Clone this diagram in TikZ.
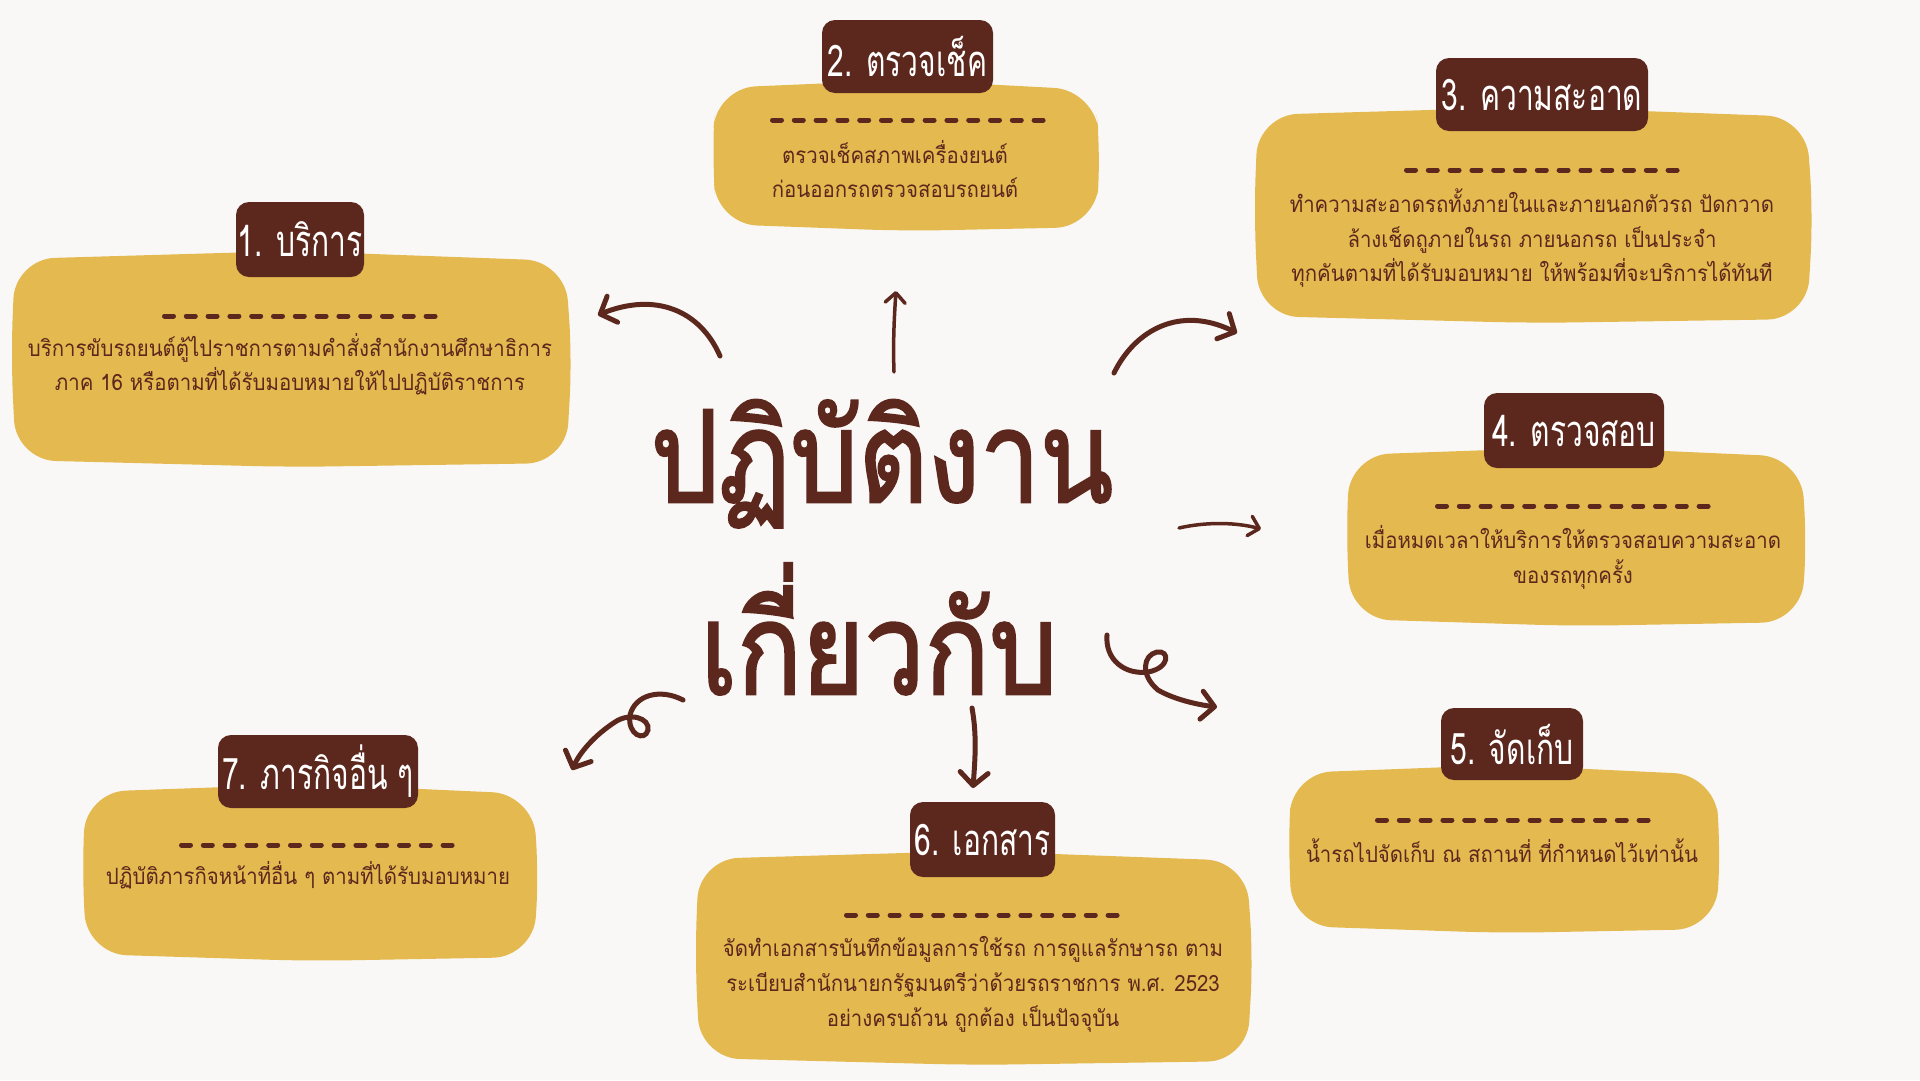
\documentclass[tikz,border=0pt]{standalone}
\usepackage{fontspec}
\newfontfamily\thai[Script=Thai]{Loma}
\newfontfamily\thaititle[Script=Thai, FakeBold=2]{Loma}
\usetikzlibrary{arrows.meta}
\definecolor{bgc}{HTML}{F9F8F6}
\definecolor{ybox}{HTML}{E4BA50}
\definecolor{dkbrown}{HTML}{5C271D}
\tikzset{
 boxfill/.style={fill=ybox, rounded corners=40pt},
 tabbox/.style={fill=dkbrown, rounded corners=13pt, text=white, inner sep=0pt,
   font=\thai\fontsize{30}{30}\selectfont, anchor=center},
 body/.style={text=dkbrown, font=\thai\fontsize{20.4}{20.4}\selectfont, inner sep=0pt, anchor=base},
 titletext/.style={text=dkbrown, font=\thaititle\fontsize{107}{107}\selectfont, inner sep=0pt, anchor=base},
 dashline/.style={draw=dkbrown, line width=5pt, line cap=round, dash pattern=on 9pt off 12.8pt},
 arr/.style={draw=dkbrown, line width=5pt, line cap=round,
   -{Straight Barb[length=13pt, width=28pt, line cap=round, line join=round]}},
 thinarr/.style={draw=dkbrown, line width=3.5pt, line cap=round,
   -{Straight Barb[length=10pt, width=20pt, line cap=round, line join=round]}},
}
\newcommand\myblob[4]{%
 \fill[boxfill] ({(#1+#3)/2},#2) -- (#3-4,#2+10) -- (#3+3,{(#2+#4)/2}) -- (#3-3,#4-2)
   -- ({(#1+#3)/2},#4+2) -- (#1+4,#4-5) -- (#1-1,{(#2+#4)/2}) -- (#1+3,#2+8) -- cycle;}
\newcommand\tabtxt[1]{\scalebox{1}[1.45]{#1}}
\newcommand\bodytxt[1]{\scalebox{1}[1.1]{#1}}
\newcommand\titletxt[1]{\scalebox{1}[1.19]{#1}}
\begin{document}
\begin{tikzpicture}[x=1pt,y=-1pt]
\fill[bgc] (0,0) rectangle (1920,1080);
\useasboundingbox (0,0) rectangle (1920,1080);

% blobs
\myblob{12}{251}{569}{465}
\myblob{713}{80}{1098}{229}
\myblob{1255}{107}{1810}{321}
\myblob{1347}{447}{1804}{624}
\myblob{1289}{765}{1718}{931}
\myblob{696}{851}{1250}{1063}
\myblob{83}{784}{536}{959}

% dashed rules
\draw[dashline] (164.5,316) -- (435.5,316);
\draw[dashline] (772.5,120) -- (1043.5,120);
\draw[dashline] (1406.5,170) -- (1677.5,170);
\draw[dashline] (1437.5,506) -- (1708.5,506);
\draw[dashline] (1377.5,820) -- (1648.5,820);
\draw[dashline] (846.5,915) -- (1117.5,915);
\draw[dashline] (181.5,845) -- (452.5,845);

% tabs
\node[tabbox, minimum width=128pt, minimum height=75pt] (t1) at (300,239.5) {\tabtxt{1. บริการ}};
\node[tabbox, minimum width=171pt, minimum height=73pt] (t2) at (907.5,56.5) {\tabtxt{2. ตรวจเช็ค}};
\node[tabbox, minimum width=212pt, minimum height=73pt] (t3) at (1542,94.5) {\tabtxt{3. ความสะอาด}};
\node[tabbox, minimum width=180pt, minimum height=75pt] (t4) at (1574,430.5) {\tabtxt{4. ตรวจสอบ}};
\node[tabbox, minimum width=142pt, minimum height=72pt] (t5) at (1512,744) {\tabtxt{5. จัดเก็บ}};
\node[tabbox, minimum width=145pt, minimum height=75pt] (t6) at (982.5,839.5) {\tabtxt{6. เอกสาร}};
\node[tabbox, minimum width=200pt, minimum height=73pt] (t7) at (318,771.5) {\tabtxt{7. ภารกิจอื่น ๆ}};

% body texts
\node[body] (b1a) at (290,356) {\bodytxt{บริการขับรถยนต์ตู้ไปราชการตามคำสั่งสำนักงานศึกษาธิการ}};
\node[body] (b1b) at (290,390) {\bodytxt{ภาค 16 หรือตามที่ได้รับมอบหมายให้ไปปฏิบัติราชการ}};
\node[body] (b2a) at (895,163) {\bodytxt{ตรวจเช็คสภาพเครื่องยนต์}};
\node[body] (b2b) at (895,197) {\bodytxt{ก่อนออกรถตรวจสอบรถยนต์}};
\node[body] (b3a) at (1532,212) {\bodytxt{ทำความสะอาดรถทั้งภายในและภายนอกตัวรถ ปัดกวาด}};
\node[body] (b3b) at (1532,247) {\bodytxt{ล้างเช็ดถูภายในรถ ภายนอกรถ เป็นประจำ}};
\node[body] (b3c) at (1532,281) {\bodytxt{ทุกคันตามที่ได้รับมอบหมาย ให้พร้อมที่จะบริการได้ทันที}};
\node[body] (b4a) at (1573,548) {\bodytxt{เมื่อหมดเวลาให้บริการให้ตรวจสอบความสะอาด}};
\node[body] (b4b) at (1573,583) {\bodytxt{ของรถทุกครั้ง}};
\node[body] (b5a) at (1502,862) {\bodytxt{น้ำรถไปจัดเก็บ ณ สถานที่ ที่กำหนดไว้เท่านั้น}};
\node[body] (b6a) at (973,956) {\bodytxt{จัดทำเอกสารบันทึกข้อมูลการใช้รถ การดูแลรักษารถ ตาม}};
\node[body] (b6b) at (973,991) {\bodytxt{ระเบียบสำนักนายกรัฐมนตรีว่าด้วยรถราชการ พ.ศ. 2523}};
\node[body] (b6c) at (973,1026) {\bodytxt{อย่างครบถ้วน ถูกต้อง เป็นปัจจุบัน}};
\node[body] (b7a) at (308,884) {\bodytxt{ปฏิบัติภารกิจหน้าที่อื่น ๆ ตามที่ได้รับมอบหมาย}};

% title
\node[titletext] (title1) at (882,502) {\titletxt{ปฏิบัติงาน}};
\node[titletext] (title2) at (879,694) {\titletxt{เกี่ยวกับ}};

% arrow end points
\coordinate (a1s) at (720,356); \coordinate (a1e) at (598,315);
\coordinate (a2s) at (894,372); \coordinate (a2e) at (896,291);
\coordinate (a3s) at (1114,373); \coordinate (a3e) at (1237,333);
\coordinate (a4s) at (1179,528); \coordinate (a4e) at (1261,529);
\coordinate (a5s) at (1107,635); \coordinate (a5e) at (1217,707);
\coordinate (a6s) at (972,708); \coordinate (a6e) at (973,788);
\coordinate (a7s) at (683,700); \coordinate (a7e) at (572,770);

\draw[arr] (a1s) .. controls (700,310) and (655,292) .. (a1e);
\draw[thinarr] (a2s) .. controls (893,345) and (894,320) .. (a2e);
\draw[arr] (a3s) .. controls (1135,330) and (1180,305) .. (a3e);
\draw[thinarr] (a4s) .. controls (1205,522) and (1235,522) .. (a4e);
\draw[arr] (a5s) .. controls (1105,660) and (1125,675) .. (1148,672)
  .. controls (1170,668) and (1170,650) .. (1157,652)
  .. controls (1143,655) and (1140,675) .. (1158,690)
  .. controls (1175,700) and (1200,705) .. (a5e);
\draw[arr] (a6s) .. controls (977,735) and (975,760) .. (a6e);
\draw[arr] (a7s) .. controls (660,688) and (635,695) .. (630,715)
  .. controls (627,735) and (645,742) .. (648,730)
  .. controls (650,718) and (630,712) .. (615,722)
  .. controls (595,735) and (580,752) .. (a7e);
\end{tikzpicture}
\end{document}
